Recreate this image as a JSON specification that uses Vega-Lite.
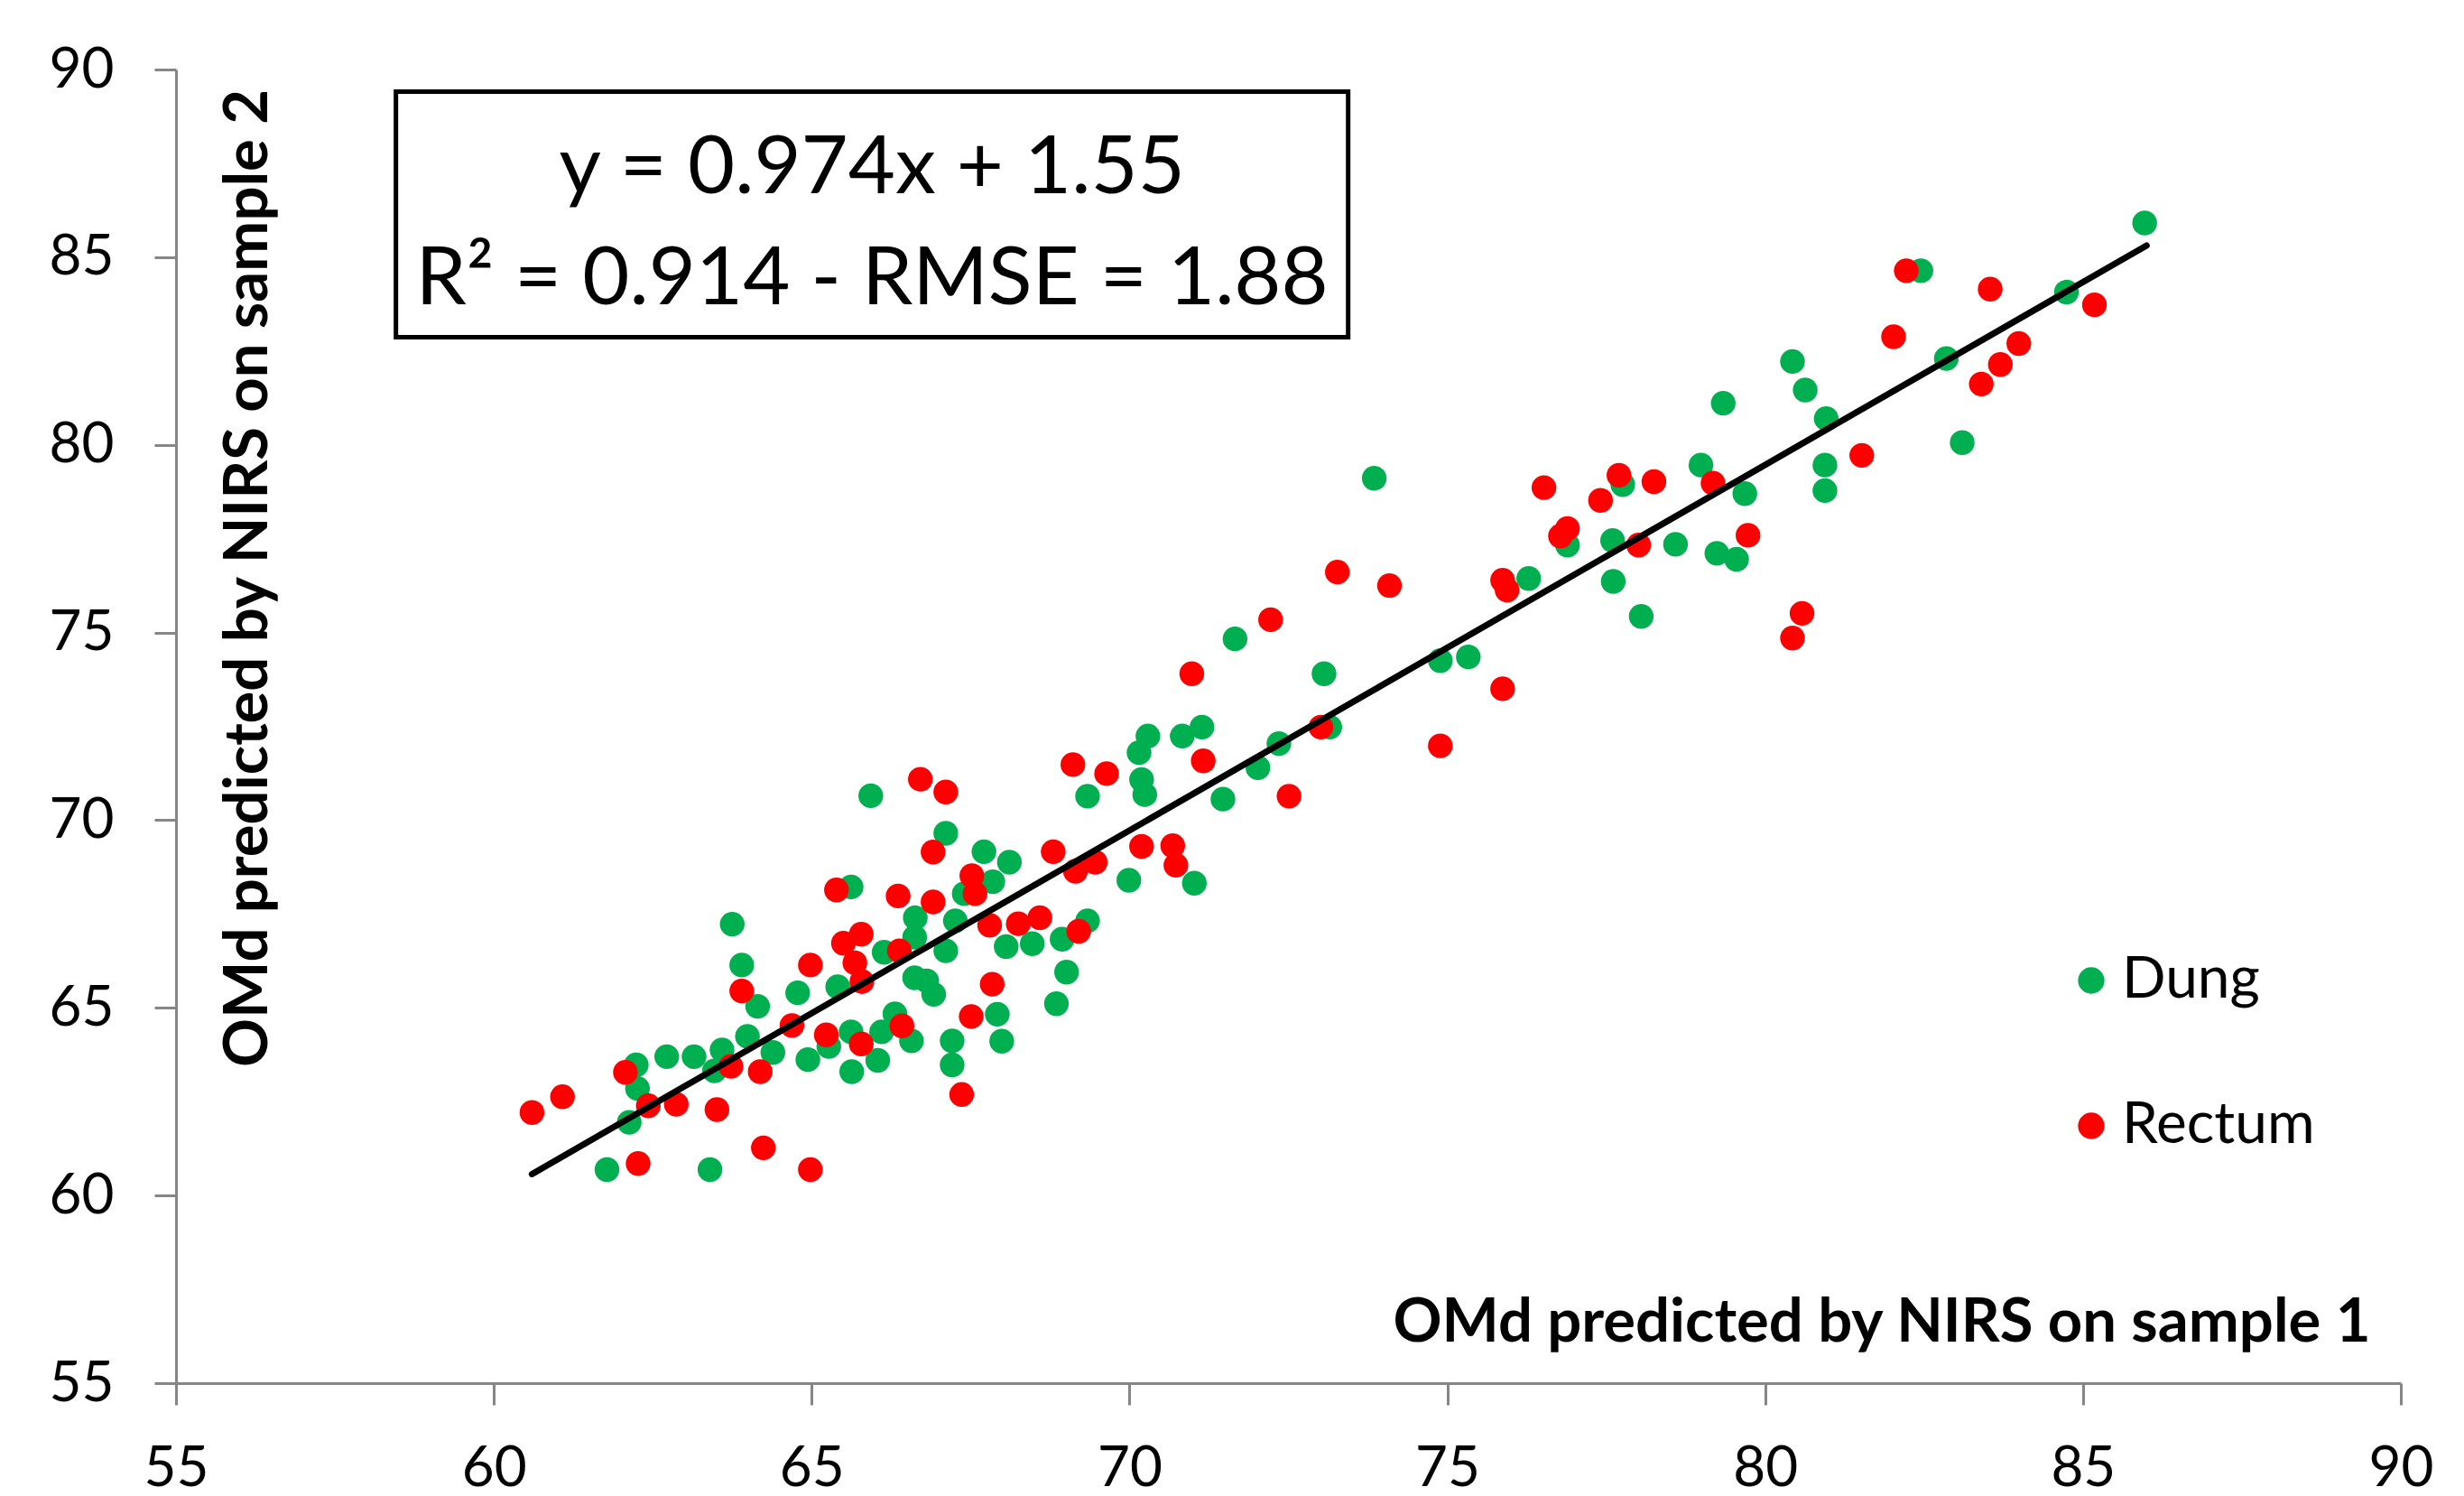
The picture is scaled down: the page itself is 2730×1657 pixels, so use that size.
{
  "$schema": "https://vega.github.io/schema/vega-lite/v6.json",
  "width": 2465,
  "height": 1455,
  "autosize": {"type": "none"},
  "padding": {"left": 195, "top": 77, "right": 70, "bottom": 125},
  "background": "white",
  "config": {
    "view": {"stroke": null},
    "font": "Lato",
    "axis": {
      "grid": false,
      "domainColor": "#868686",
      "domainWidth": 3,
      "tickColor": "#868686",
      "tickWidth": 3,
      "tickSize": 24,
      "labelFont": "Lato",
      "labelFontSize": 62,
      "labelColor": "black",
      "labelPadding": 45,
      "titleFont": "Lato",
      "titleFontSize": 67,
      "titleFontWeight": "bold",
      "titleColor": "black"
    }
  },
  "datasets": {
    "points": [
      {"sample1": 61.78, "sample2": 60.69, "group": "Dung"},
      {"sample1": 63.40, "sample2": 60.69, "group": "Dung"},
      {"sample1": 62.13, "sample2": 61.95, "group": "Dung"},
      {"sample1": 62.26, "sample2": 62.85, "group": "Dung"},
      {"sample1": 62.24, "sample2": 63.48, "group": "Dung"},
      {"sample1": 62.72, "sample2": 63.70, "group": "Dung"},
      {"sample1": 63.15, "sample2": 63.70, "group": "Dung"},
      {"sample1": 63.59, "sample2": 63.88, "group": "Dung"},
      {"sample1": 63.47, "sample2": 63.32, "group": "Dung"},
      {"sample1": 63.99, "sample2": 64.24, "group": "Dung"},
      {"sample1": 64.39, "sample2": 63.81, "group": "Dung"},
      {"sample1": 64.94, "sample2": 63.62, "group": "Dung"},
      {"sample1": 65.63, "sample2": 63.30, "group": "Dung"},
      {"sample1": 65.62, "sample2": 64.36, "group": "Dung"},
      {"sample1": 66.04, "sample2": 63.60, "group": "Dung"},
      {"sample1": 66.10, "sample2": 64.36, "group": "Dung"},
      {"sample1": 66.31, "sample2": 64.84, "group": "Dung"},
      {"sample1": 66.57, "sample2": 64.12, "group": "Dung"},
      {"sample1": 67.21, "sample2": 64.12, "group": "Dung"},
      {"sample1": 67.21, "sample2": 63.48, "group": "Dung"},
      {"sample1": 64.15, "sample2": 65.04, "group": "Dung"},
      {"sample1": 63.90, "sample2": 66.14, "group": "Dung"},
      {"sample1": 63.75, "sample2": 67.23, "group": "Dung"},
      {"sample1": 64.78, "sample2": 65.40, "group": "Dung"},
      {"sample1": 65.41, "sample2": 65.56, "group": "Dung"},
      {"sample1": 65.62, "sample2": 68.22, "group": "Dung"},
      {"sample1": 65.93, "sample2": 70.65, "group": "Dung"},
      {"sample1": 67.11, "sample2": 69.65, "group": "Dung"},
      {"sample1": 66.14, "sample2": 66.48, "group": "Dung"},
      {"sample1": 66.63, "sample2": 67.40, "group": "Dung"},
      {"sample1": 66.62, "sample2": 66.88, "group": "Dung"},
      {"sample1": 66.62, "sample2": 65.80, "group": "Dung"},
      {"sample1": 66.81, "sample2": 65.72, "group": "Dung"},
      {"sample1": 66.92, "sample2": 65.36, "group": "Dung"},
      {"sample1": 67.11, "sample2": 66.52, "group": "Dung"},
      {"sample1": 65.27, "sample2": 63.97, "group": "Dung"},
      {"sample1": 67.71, "sample2": 69.16, "group": "Dung"},
      {"sample1": 68.11, "sample2": 68.88, "group": "Dung"},
      {"sample1": 67.85, "sample2": 68.36, "group": "Dung"},
      {"sample1": 67.40, "sample2": 68.04, "group": "Dung"},
      {"sample1": 67.26, "sample2": 67.32, "group": "Dung"},
      {"sample1": 68.06, "sample2": 66.63, "group": "Dung"},
      {"sample1": 68.47, "sample2": 66.71, "group": "Dung"},
      {"sample1": 68.94, "sample2": 66.83, "group": "Dung"},
      {"sample1": 69.34, "sample2": 67.32, "group": "Dung"},
      {"sample1": 69.01, "sample2": 65.95, "group": "Dung"},
      {"sample1": 68.85, "sample2": 65.11, "group": "Dung"},
      {"sample1": 67.92, "sample2": 64.83, "group": "Dung"},
      {"sample1": 67.99, "sample2": 64.11, "group": "Dung"},
      {"sample1": 69.99, "sample2": 68.40, "group": "Dung"},
      {"sample1": 71.02, "sample2": 68.32, "group": "Dung"},
      {"sample1": 69.34, "sample2": 70.64, "group": "Dung"},
      {"sample1": 70.15, "sample2": 71.80, "group": "Dung"},
      {"sample1": 70.29, "sample2": 72.24, "group": "Dung"},
      {"sample1": 70.19, "sample2": 71.08, "group": "Dung"},
      {"sample1": 70.24, "sample2": 70.68, "group": "Dung"},
      {"sample1": 70.83, "sample2": 72.24, "group": "Dung"},
      {"sample1": 71.14, "sample2": 72.48, "group": "Dung"},
      {"sample1": 71.47, "sample2": 70.56, "group": "Dung"},
      {"sample1": 72.02, "sample2": 71.40, "group": "Dung"},
      {"sample1": 72.35, "sample2": 72.04, "group": "Dung"},
      {"sample1": 73.15, "sample2": 72.48, "group": "Dung"},
      {"sample1": 71.66, "sample2": 74.83, "group": "Dung"},
      {"sample1": 73.06, "sample2": 73.90, "group": "Dung"},
      {"sample1": 73.85, "sample2": 79.11, "group": "Dung"},
      {"sample1": 74.89, "sample2": 74.25, "group": "Dung"},
      {"sample1": 75.33, "sample2": 74.35, "group": "Dung"},
      {"sample1": 76.28, "sample2": 76.44, "group": "Dung"},
      {"sample1": 76.89, "sample2": 77.33, "group": "Dung"},
      {"sample1": 77.76, "sample2": 78.94, "group": "Dung"},
      {"sample1": 77.60, "sample2": 77.45, "group": "Dung"},
      {"sample1": 77.61, "sample2": 76.36, "group": "Dung"},
      {"sample1": 78.05, "sample2": 75.43, "group": "Dung"},
      {"sample1": 78.59, "sample2": 77.35, "group": "Dung"},
      {"sample1": 78.99, "sample2": 79.46, "group": "Dung"},
      {"sample1": 79.34, "sample2": 81.11, "group": "Dung"},
      {"sample1": 79.68, "sample2": 78.70, "group": "Dung"},
      {"sample1": 79.24, "sample2": 77.11, "group": "Dung"},
      {"sample1": 79.55, "sample2": 76.95, "group": "Dung"},
      {"sample1": 80.43, "sample2": 82.22, "group": "Dung"},
      {"sample1": 80.63, "sample2": 81.46, "group": "Dung"},
      {"sample1": 80.96, "sample2": 80.70, "group": "Dung"},
      {"sample1": 80.94, "sample2": 79.46, "group": "Dung"},
      {"sample1": 80.94, "sample2": 78.78, "group": "Dung"},
      {"sample1": 82.45, "sample2": 84.64, "group": "Dung"},
      {"sample1": 82.85, "sample2": 82.30, "group": "Dung"},
      {"sample1": 83.10, "sample2": 80.06, "group": "Dung"},
      {"sample1": 84.74, "sample2": 84.07, "group": "Dung"},
      {"sample1": 85.97, "sample2": 85.91, "group": "Dung"},
      {"sample1": 60.60, "sample2": 62.21, "group": "Rectum"},
      {"sample1": 61.08, "sample2": 62.63, "group": "Rectum"},
      {"sample1": 62.07, "sample2": 63.28, "group": "Rectum"},
      {"sample1": 62.43, "sample2": 62.39, "group": "Rectum"},
      {"sample1": 62.87, "sample2": 62.43, "group": "Rectum"},
      {"sample1": 63.51, "sample2": 62.29, "group": "Rectum"},
      {"sample1": 62.27, "sample2": 60.85, "group": "Rectum"},
      {"sample1": 64.24, "sample2": 61.27, "group": "Rectum"},
      {"sample1": 64.98, "sample2": 60.69, "group": "Rectum"},
      {"sample1": 63.73, "sample2": 63.44, "group": "Rectum"},
      {"sample1": 64.19, "sample2": 63.30, "group": "Rectum"},
      {"sample1": 64.69, "sample2": 64.53, "group": "Rectum"},
      {"sample1": 65.23, "sample2": 64.28, "group": "Rectum"},
      {"sample1": 65.78, "sample2": 64.04, "group": "Rectum"},
      {"sample1": 66.42, "sample2": 64.52, "group": "Rectum"},
      {"sample1": 67.51, "sample2": 64.77, "group": "Rectum"},
      {"sample1": 67.36, "sample2": 62.69, "group": "Rectum"},
      {"sample1": 63.90, "sample2": 65.45, "group": "Rectum"},
      {"sample1": 64.98, "sample2": 66.14, "group": "Rectum"},
      {"sample1": 65.39, "sample2": 68.14, "group": "Rectum"},
      {"sample1": 65.50, "sample2": 66.72, "group": "Rectum"},
      {"sample1": 65.78, "sample2": 66.96, "group": "Rectum"},
      {"sample1": 65.68, "sample2": 66.20, "group": "Rectum"},
      {"sample1": 65.79, "sample2": 65.70, "group": "Rectum"},
      {"sample1": 66.36, "sample2": 67.98, "group": "Rectum"},
      {"sample1": 66.91, "sample2": 67.82, "group": "Rectum"},
      {"sample1": 66.71, "sample2": 71.09, "group": "Rectum"},
      {"sample1": 67.11, "sample2": 70.75, "group": "Rectum"},
      {"sample1": 66.91, "sample2": 69.15, "group": "Rectum"},
      {"sample1": 66.38, "sample2": 66.52, "group": "Rectum"},
      {"sample1": 67.52, "sample2": 68.52, "group": "Rectum"},
      {"sample1": 67.57, "sample2": 68.04, "group": "Rectum"},
      {"sample1": 67.84, "sample2": 65.63, "group": "Rectum"},
      {"sample1": 67.80, "sample2": 67.20, "group": "Rectum"},
      {"sample1": 68.25, "sample2": 67.24, "group": "Rectum"},
      {"sample1": 68.59, "sample2": 67.40, "group": "Rectum"},
      {"sample1": 69.20, "sample2": 67.04, "group": "Rectum"},
      {"sample1": 68.80, "sample2": 69.16, "group": "Rectum"},
      {"sample1": 69.15, "sample2": 68.64, "group": "Rectum"},
      {"sample1": 69.46, "sample2": 68.88, "group": "Rectum"},
      {"sample1": 69.11, "sample2": 71.48, "group": "Rectum"},
      {"sample1": 69.64, "sample2": 71.24, "group": "Rectum"},
      {"sample1": 70.19, "sample2": 69.30, "group": "Rectum"},
      {"sample1": 70.68, "sample2": 69.32, "group": "Rectum"},
      {"sample1": 70.73, "sample2": 68.80, "group": "Rectum"},
      {"sample1": 71.16, "sample2": 71.58, "group": "Rectum"},
      {"sample1": 70.98, "sample2": 73.90, "group": "Rectum"},
      {"sample1": 72.22, "sample2": 75.34, "group": "Rectum"},
      {"sample1": 72.51, "sample2": 70.64, "group": "Rectum"},
      {"sample1": 73.01, "sample2": 72.48, "group": "Rectum"},
      {"sample1": 73.27, "sample2": 76.61, "group": "Rectum"},
      {"sample1": 74.09, "sample2": 76.25, "group": "Rectum"},
      {"sample1": 74.89, "sample2": 71.98, "group": "Rectum"},
      {"sample1": 75.87, "sample2": 73.50, "group": "Rectum"},
      {"sample1": 75.87, "sample2": 76.39, "group": "Rectum"},
      {"sample1": 75.94, "sample2": 76.13, "group": "Rectum"},
      {"sample1": 76.52, "sample2": 78.86, "group": "Rectum"},
      {"sample1": 76.78, "sample2": 77.57, "group": "Rectum"},
      {"sample1": 76.89, "sample2": 77.77, "group": "Rectum"},
      {"sample1": 77.41, "sample2": 78.52, "group": "Rectum"},
      {"sample1": 77.70, "sample2": 79.19, "group": "Rectum"},
      {"sample1": 78.25, "sample2": 79.02, "group": "Rectum"},
      {"sample1": 78.01, "sample2": 77.33, "group": "Rectum"},
      {"sample1": 79.18, "sample2": 78.98, "group": "Rectum"},
      {"sample1": 79.73, "sample2": 77.59, "group": "Rectum"},
      {"sample1": 80.58, "sample2": 75.51, "group": "Rectum"},
      {"sample1": 80.43, "sample2": 74.85, "group": "Rectum"},
      {"sample1": 81.52, "sample2": 79.72, "group": "Rectum"},
      {"sample1": 82.02, "sample2": 82.88, "group": "Rectum"},
      {"sample1": 82.22, "sample2": 84.64, "group": "Rectum"},
      {"sample1": 83.54, "sample2": 84.15, "group": "Rectum"},
      {"sample1": 83.99, "sample2": 82.70, "group": "Rectum"},
      {"sample1": 83.70, "sample2": 82.14, "group": "Rectum"},
      {"sample1": 83.40, "sample2": 81.62, "group": "Rectum"},
      {"sample1": 85.18, "sample2": 83.73, "group": "Rectum"}
    ],
    "fit": [
      {"sample1": 60.6, "sample2": 60.57},
      {"sample1": 86.0, "sample2": 85.31}
    ]
  },
  "layer": [
    {
      "data": {"name": "points"},
      "mark": {"type": "circle", "size": 750, "opacity": 1},
      "encoding": {
        "x": {
          "field": "sample1", "type": "quantitative",
          "scale": {"domain": [55, 90], "nice": false, "zero": false},
          "axis": {
            "values": [55, 60, 65, 70, 75, 80, 85, 90],
            "format": "d",
            "labelPadding": 40,
            "title": "OMd predicted by NIRS on sample 1",
            "titleAnchor": null,
            "titleX": 2431, "titleY": -47,
            "titleAlign": "right", "titleBaseline": "alphabetic",
            "labelFlush": false
          }
        },
        "y": {
          "field": "sample2", "type": "quantitative",
          "scale": {"domain": [55, 90], "nice": false, "zero": false},
          "axis": {
            "values": [55, 60, 65, 70, 75, 80, 85, 90],
            "format": "d",
            "title": "OMd predicted by NIRS on sample 2",
            "titleX": 100, "titleY": 563,
            "titleAngle": 270,
            "titleAlign": "center", "titleBaseline": "alphabetic",
            "labelFlush": false
          }
        },
        "color": {
          "field": "group", "type": "nominal",
          "scale": {"domain": ["Dung", "Rectum"], "range": ["#00B050", "#FF0000"]},
          "legend": {
            "orient": "none",
            "legendX": 2090,
            "legendY": 977,
            "title": null,
            "symbolType": "circle",
            "symbolSize": 860,
            "symbolStrokeWidth": 0,
            "symbolOpacity": 1,
            "labelFont": "Lato",
            "labelFontSize": 64,
            "labelColor": "black",
            "labelLimit": 0,
            "labelOffset": 2,
            "rowPadding": 97
          }
        }
      }
    },
    {
      "data": {"name": "fit"},
      "mark": {"type": "line", "color": "black", "strokeWidth": 7, "strokeCap": "round"},
      "encoding": {
        "x": {"field": "sample1", "type": "quantitative"},
        "y": {"field": "sample2", "type": "quantitative"}
      }
    },
    {
      "data": {"values": [{}]},
      "mark": {"type": "rect", "fill": null, "stroke": "black", "strokeWidth": 5},
      "encoding": {
        "x": {"datum": 58.46, "type": "quantitative"},
        "x2": {"datum": 73.44},
        "y": {"datum": 89.41, "type": "quantitative"},
        "y2": {"datum": 82.87}
      }
    },
    {
      "data": {"values": [{}]},
      "mark": {"type": "text", "font": "Lato", "fontSize": 90, "color": "black", "align": "center", "baseline": "alphabetic"},
      "encoding": {
        "x": {"datum": 65.95, "type": "quantitative"},
        "y": {"datum": 86.70, "type": "quantitative"},
        "text": {"value": "y = 0.974x + 1.55"}
      }
    },
    {
      "data": {"values": [{}]},
      "mark": {"type": "text", "font": "Lato", "fontSize": 90, "color": "black", "align": "center", "baseline": "alphabetic"},
      "encoding": {
        "x": {"datum": 65.95, "type": "quantitative"},
        "y": {"datum": 83.74, "type": "quantitative"},
        "text": {"value": "R² = 0.914 - RMSE = 1.88"}
      }
    }
  ]
}
